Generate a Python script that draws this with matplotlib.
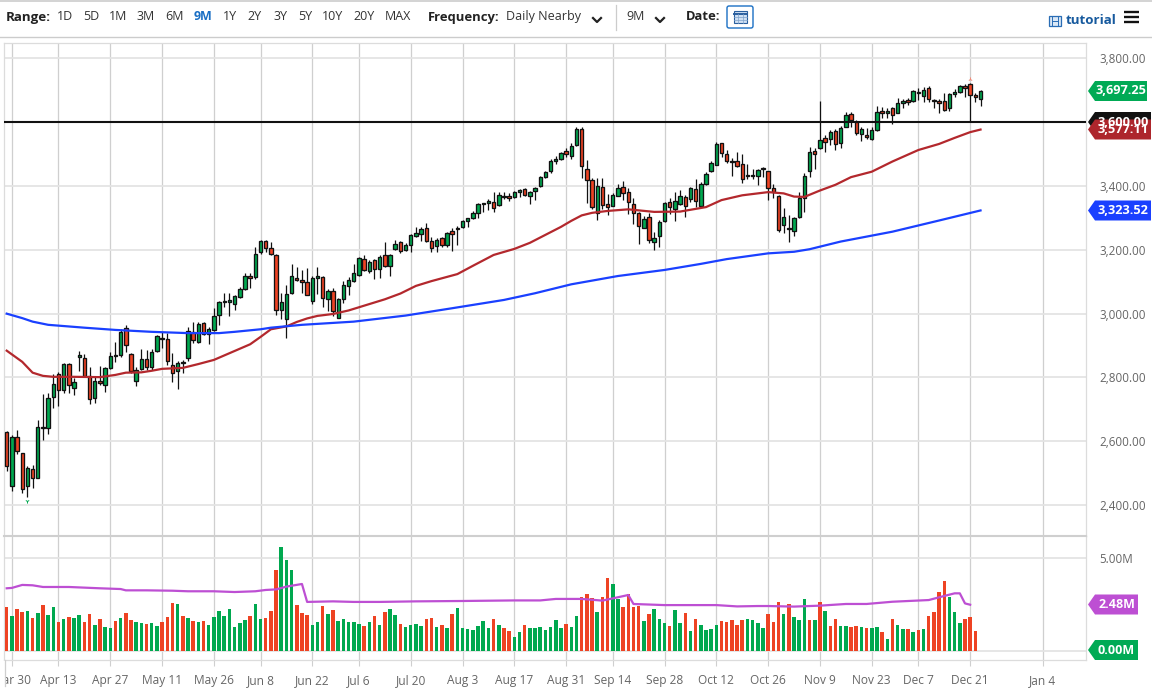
import matplotlib
matplotlib.use("Agg")
import matplotlib.pyplot as plt
from matplotlib.patches import Polygon, Rectangle, FancyBboxPatch

plt.rcParams['font.family'] = ['Open Sans', 'DejaVu Sans']

W, H = 1152, 692

# daily candles, one entry per trading day
opens = [2628, 2460, 2613, 2562, 2460, 2514, 2486, 2646, 2640, 2738,
         2811, 2760, 2843, 2768, 2863, 2861, 2806, 2737, 2790, 2776,
         2829, 2867, 2869, 2956, 2873, 2789, 2827, 2857, 2832, 2882,
         2923, 2920, 2839, 2820, 2847, 2860, 2944, 2912, 2971, 2936,
         2949, 2995, 3036, 3037, 3031, 3053, 3078, 3117, 3114, 3194,
         3229, 3205, 3184, 3012, 2984, 3065, 3111, 3104, 3098, 3040,
         3111, 3114, 3046, 3071, 2987, 3045, 3086, 3101, 3121, 3171,
         3135, 3167, 3141, 3184, 3150, 3204, 3224, 3199, 3214, 3243,
         3249, 3267, 3229, 3211, 3236, 3214, 3258, 3269, 3271, 3290,
         3300, 3317, 3343, 3346, 3350, 3340, 3367, 3369, 3366, 3381,
         3390, 3369, 3383, 3399, 3427, 3446, 3479, 3486, 3509, 3493,
         3529, 3578, 3453, 3420, 3314, 3396, 3345, 3339, 3370, 3396,
         3380, 3345, 3314, 3270, 3304, 3226, 3242, 3290, 3349, 3329,
         3345, 3367, 3360, 3392, 3336, 3405, 3446, 3467, 3534, 3502,
         3479, 3477, 3470, 3432, 3436, 3430, 3452, 3446, 3393, 3369,
         3277, 3268, 3260, 3304, 3362, 3446, 3510, 3519, 3550, 3546,
         3573, 3536, 3586, 3626, 3602, 3562, 3560, 3546, 3575, 3634,
         3630, 3644, 3630, 3660, 3671, 3667, 3692, 3682, 3706, 3670,
         3668, 3668, 3646, 3688, 3696, 3714, 3719, 3684, 3674]
highs = [2632, 2620, 2634, 2564, 2522, 2527, 2667, 2748, 2750, 2811,
         2818, 2846, 2844, 2797, 2884, 2874, 2832, 2806, 2836, 2834,
         2881, 2912, 2952, 2964, 2878, 2832, 2888, 2886, 2888, 2933,
         2944, 2938, 2876, 2853, 2855, 2959, 2975, 2975, 2975, 2959,
         3017, 3040, 3064, 3064, 3059, 3083, 3127, 3129, 3210, 3231,
         3231, 3226, 3187, 3064, 3090, 3155, 3146, 3137, 3142, 3118,
         3146, 3118, 3077, 3080, 3049, 3101, 3114, 3156, 3177, 3183,
         3169, 3171, 3183, 3225, 3187, 3231, 3228, 3221, 3249, 3271,
         3271, 3284, 3239, 3237, 3240, 3256, 3268, 3275, 3294, 3301,
         3322, 3346, 3348, 3359, 3380, 3380, 3380, 3378, 3383, 3390,
         3395, 3386, 3397, 3432, 3447, 3486, 3494, 3508, 3518, 3534,
         3584, 3584, 3482, 3424, 3424, 3424, 3375, 3377, 3408, 3417,
         3393, 3361, 3319, 3306, 3314, 3256, 3293, 3351, 3361, 3382,
         3387, 3372, 3398, 3421, 3414, 3445, 3478, 3539, 3536, 3513,
         3487, 3507, 3500, 3469, 3455, 3452, 3461, 3448, 3408, 3371,
         3330, 3309, 3304, 3380, 3440, 3521, 3518, 3668, 3560, 3576,
         3578, 3588, 3633, 3633, 3607, 3584, 3581, 3584, 3651, 3649,
         3644, 3649, 3675, 3673, 3675, 3701, 3706, 3710, 3714, 3672,
         3672, 3691, 3691, 3703, 3717, 3720, 3724, 3691, 3701]
lows = [2508, 2445, 2560, 2437, 2426, 2452, 2484, 2604, 2623, 2703,
        2710, 2752, 2752, 2746, 2821, 2803, 2717, 2719, 2776, 2755,
        2826, 2850, 2865, 2879, 2813, 2772, 2823, 2823, 2823, 2880,
        2891, 2840, 2787, 2763, 2813, 2852, 2907, 2909, 2933, 2905,
        2946, 2965, 3020, 2993, 3010, 3050, 3074, 3080, 3108, 3187,
        3192, 3183, 2996, 2982, 2925, 3062, 3101, 3064, 3058, 3030,
        3062, 3021, 3007, 2994, 2985, 3033, 3059, 3098, 3118, 3134,
        3127, 3108, 3111, 3146, 3119, 3200, 3190, 3197, 3192, 3241,
        3229, 3224, 3193, 3194, 3208, 3208, 3197, 3214, 3268, 3272,
        3298, 3299, 3320, 3325, 3320, 3338, 3359, 3352, 3363, 3365,
        3369, 3343, 3355, 3397, 3424, 3440, 3468, 3482, 3492, 3484,
        3527, 3424, 3348, 3329, 3295, 3327, 3309, 3337, 3368, 3356,
        3312, 3281, 3218, 3267, 3222, 3199, 3208, 3288, 3312, 3291,
        3340, 3302, 3351, 3333, 3334, 3403, 3444, 3465, 3492, 3471,
        3432, 3459, 3411, 3421, 3422, 3403, 3429, 3356, 3364, 3257,
        3254, 3225, 3243, 3301, 3319, 3429, 3455, 3516, 3508, 3529,
        3513, 3518, 3584, 3586, 3560, 3542, 3546, 3544, 3573, 3612,
        3612, 3595, 3628, 3644, 3654, 3665, 3670, 3665, 3665, 3644,
        3628, 3635, 3636, 3680, 3693, 3678, 3600, 3665, 3652]
closes = [2524, 2612, 2570, 2449, 2517, 2484, 2644, 2642, 2735, 2780,
          2761, 2842, 2775, 2787, 2871, 2806, 2731, 2788, 2782, 2830,
          2868, 2869, 2942, 2903, 2821, 2824, 2857, 2834, 2880, 2929,
          2921, 2853, 2813, 2846, 2845, 2947, 2918, 2969, 2936, 2953,
          2994, 3036, 3038, 3042, 3055, 3077, 3117, 3111, 3186, 3228,
          3206, 3186, 3011, 3035, 3061, 3117, 3107, 3098, 3059, 3111,
          3118, 3048, 3071, 3009, 3047, 3090, 3104, 3129, 3173, 3137,
          3163, 3141, 3179, 3148, 3184, 3219, 3195, 3214, 3246, 3252,
          3266, 3228, 3205, 3232, 3214, 3252, 3250, 3265, 3289, 3300,
          3317, 3344, 3346, 3354, 3331, 3372, 3368, 3362, 3380, 3387,
          3371, 3381, 3393, 3428, 3444, 3479, 3485, 3505, 3499, 3527,
          3579, 3462, 3419, 3335, 3399, 3340, 3333, 3371, 3395, 3379,
          3351, 3316, 3274, 3298, 3232, 3238, 3286, 3346, 3333, 3352,
          3368, 3338, 3393, 3352, 3406, 3437, 3473, 3532, 3505, 3480,
          3475, 3462, 3423, 3436, 3432, 3449, 3456, 3394, 3381, 3262,
          3302, 3264, 3301, 3362, 3433, 3506, 3499, 3543, 3539, 3568,
          3532, 3583, 3623, 3606, 3565, 3579, 3553, 3576, 3633, 3628,
          3636, 3623, 3660, 3668, 3665, 3697, 3695, 3702, 3672, 3668,
          3661, 3638, 3687, 3694, 3713, 3706, 3684, 3678, 3697]

# volume in millions, r/g is the bar colour
volumes = [2.34, 1.86, 2.25, 2.11, 2.16, 1.77, 2.04, 2.48, 1.93, 2.36,
           1.57, 1.71, 1.84, 1.75, 1.93, 1.57, 1.96, 1.38, 1.70, 1.30,
           1.23, 1.63, 1.75, 2.02, 1.66, 1.54, 1.48, 1.46, 1.50, 1.34,
           1.54, 1.82, 2.59, 2.52, 1.89, 1.77, 1.59, 1.54, 1.61, 1.39,
           1.80, 2.13, 1.88, 2.27, 1.29, 1.48, 1.66, 1.88, 2.50, 1.70,
           1.79, 2.16, 4.32, 5.57, 4.88, 4.36, 2.46, 2.02, 1.95, 1.39,
           1.54, 2.39, 1.96, 2.20, 1.59, 1.71, 1.55, 1.55, 1.45, 1.34,
           1.54, 1.88, 1.41, 2.07, 2.23, 1.93, 1.46, 1.27, 1.39, 1.46,
           1.36, 1.70, 1.77, 1.30, 1.38, 1.21, 2.00, 2.29, 1.25, 1.16,
           1.13, 1.34, 1.61, 1.21, 1.73, 1.41, 1.21, 1.09, 0.77, 1.02,
           1.38, 1.21, 1.21, 1.29, 1.14, 1.29, 1.64, 1.25, 1.45, 1.30,
           1.88, 2.89, 3.04, 2.84, 2.09, 2.89, 3.89, 3.59, 2.77, 2.34,
           3.05, 2.36, 2.41, 1.59, 1.98, 2.27, 1.70, 1.50, 1.32, 2.18,
           1.52, 2.04, 1.07, 1.70, 1.39, 1.11, 1.18, 1.39, 1.61, 1.54,
           1.66, 1.39, 1.64, 1.70, 1.68, 1.48, 1.21, 1.96, 1.57, 2.63,
           1.96, 2.50, 1.84, 1.66, 2.80, 1.66, 1.64, 2.63, 2.16, 1.34,
           1.70, 1.34, 1.32, 1.29, 1.34, 1.29, 1.21, 1.21, 1.29, 1.02,
           0.64, 1.73, 1.39, 1.18, 1.16, 1.04, 1.13, 1.18, 1.89, 2.11,
           3.18, 3.75, 2.91, 2.09, 1.52, 1.73, 1.82, 1.09]
vol_dirs = ("rgrrgrgrgg" "rgrggrrgrg" "grgrrggrgg" "rrrgrgrgrg" "gggggggrgg"
            "rrrgggrrrg" "grgrgggggr" "grgrggrggg" "grrgrgrggg" "ggggrgrrgg"
            "rgggggggrg" "grrrgrrggr" "rrrgrgggrg" "grgrggggrr" "rrrggggrrr"
            "grgggrgrgr" "rggrrgrggr" "grggrgrgrr" "rrgggrrr")

# moving averages, read at the bars listed
ma50_days = [0, 3, 5, 7, 9, 13, 18, 21, 23, 26, 28, 30, 34, 37, 40, 44, 47, 49, 51, 54,
             56, 58, 60, 63, 66, 70, 73, 76, 79, 82, 87, 90, 94, 98, 101, 104, 107, 109,
             111, 113, 116, 120, 125, 130, 135, 138, 142, 147, 150, 152, 154, 157, 160,
             163, 167, 171, 176, 180, 183, 186, 188]
ma50 = [2884, 2849, 2815, 2805, 2802, 2802, 2801, 2808, 2815, 2816, 2821, 2827, 2830, 2842,
        2855, 2883, 2904, 2927, 2951, 2960, 2974, 2985, 2993, 2999, 3010, 3030, 3045, 3063,
        3087, 3102, 3124, 3150, 3184, 3203, 3222, 3247, 3272, 3291, 3308, 3316, 3322, 3327,
        3319, 3320, 3334, 3356, 3371, 3381, 3377, 3367, 3366, 3386, 3404, 3428, 3445, 3477,
        3513, 3532, 3551, 3569, 3577.11]
ma200_days = [0, 3, 5, 8, 15, 21, 28, 35, 41, 44, 49, 51, 57, 67, 77, 86, 96, 102, 109,
              118, 127, 134, 139, 147, 152, 155, 161, 171, 180, 188]
ma200 = [3000, 2986, 2975, 2965, 2956, 2949, 2943, 2939, 2939, 2943, 2951, 2956, 2965, 2975,
         2994, 3017, 3043, 3064, 3092, 3118, 3137, 3156, 3171, 3189, 3194, 3202, 3226, 3257,
         3292, 3323.52]
volavg_days = [0, 1, 3, 5, 7, 12, 18, 22, 23, 27, 32, 35, 40, 44, 48, 50, 52, 54, 57, 58, 63,
               67, 72, 79, 88, 98, 103, 106, 111, 115, 117, 120, 121, 127, 137, 141, 145,
               147, 152, 157, 162, 166, 171, 178, 181, 183, 184, 185, 186]
volavg = [3.36, 3.38, 3.54, 3.52, 3.43, 3.43, 3.36, 3.32, 3.25, 3.25, 3.23, 3.20, 3.20, 3.16,
          3.20, 3.27, 3.30, 3.45, 3.59, 2.63, 2.66, 2.63, 2.63, 2.66, 2.68, 2.71, 2.71, 2.79,
          2.79, 2.70, 2.82, 3.00, 2.52, 2.46, 2.46, 2.39, 2.41, 2.41, 2.38, 2.43, 2.52, 2.52,
          2.64, 2.73, 2.95, 3.09, 3.09, 2.55, 2.48]

support_level = 3600
price_ticks = [2400, 2600, 2800, 3000, 3200, 3400, 3600, 3800]
date_ticks = [1, 10, 20, 30, 40, 49, 59, 68, 78, 88, 98, 108, 117, 127, 137, 147, 157, 167, 176, 186, 200]
date_labels = ['Mar 30', 'Apr 13', 'Apr 27', 'May 11', 'May 26', 'Jun 8', 'Jun 22', 'Jul 6', 'Jul 20',
               'Aug 3', 'Aug 17', 'Aug 31', 'Sep 14', 'Sep 28', 'Oct 12', 'Oct 26', 'Nov 9', 'Nov 23',
               'Dec 7', 'Dec 21', 'Jan 4']

range_labels = ['1D', '5D', '1M', '3M', '6M', '9M', '1Y', '2Y', '3Y', '5Y', '10Y', '20Y', 'MAX']
range_x = [65, 91, 118, 146, 174, 203, 230, 255, 280, 305, 333, 364, 398]

GREEN = '#00a84f'
RED = '#ee4323'
GRID_H = '#e4e4e4'
GRID_V = '#cfcfcf'
TXT = '#666666'
XMIN, XMAX = -0.52, 208.36


def px_box(left, top, right, bottom):
    return [left / W, 1 - bottom / H, (right - left) / W, (bottom - top) / H]


fig = plt.figure(figsize=(W / 100, H / 100), dpi=100, facecolor='white')
ax = fig.add_axes(px_box(4, 42.5, 1086, 536))
vax = fig.add_axes(px_box(4, 536, 1086, 660))

# price panel
days = range(len(opens))
for d in days:
    color = GREEN if closes[d] >= opens[d] else RED
    ax.vlines(d, lows[d], highs[d], color='#111111', lw=0.9, zorder=3)
    bottom = min(opens[d], closes[d])
    height = max(abs(closes[d] - opens[d]), 3)
    ax.bar(d, height, bottom=bottom, width=0.66, color=color, edgecolor='#111111', lw=0.95, zorder=4)

ax.plot(ma50_days, ma50, color='#b3282d', lw=1.6, zorder=5)
ax.plot(ma200_days, ma200, color='#1a40ff', lw=1.6, zorder=5)
ax.plot([lows.index(min(lows))], [2414], marker='1', ms=3, color=GREEN, mew=0.7, zorder=5)
ax.plot([186], [3737], marker='2', ms=3, color='#f08a78', mew=0.7, zorder=5)
ax.axhline(support_level, color='#111111', lw=1.5, zorder=6)

ax.set_xlim(XMIN, XMAX)
ax.set_ylim(2303, 3850)
ax.set_yticks(price_ticks)
ax.set_yticklabels(['{:,.2f}'.format(p) for p in price_ticks])
ax.set_xticks(date_ticks)
ax.tick_params(axis='x', length=0, labelbottom=False)
ax.tick_params(axis='y', length=0, labelleft=False, labelright=True, pad=9.5, labelsize=8.4, labelcolor=TXT)

# volume panel
bar_colors = [RED if c == 'r' else GREEN for c in vol_dirs]
vax.bar(range(len(volumes)), volumes, width=0.68, color=bar_colors, zorder=3)
vax.plot(volavg_days, volavg, color='#bd4fd3', lw=1.6, zorder=4)
vax.set_xlim(XMIN, XMAX)
vax.set_ylim(-0.48, 6.16)
vax.set_yticks([0, 5])
vax.set_yticklabels(['', '5.00M'])
vax.set_xticks(date_ticks)
vax.set_xticklabels(date_labels)
vax.tick_params(axis='x', length=4, color=GRID_V, pad=6, labelsize=8.6, labelcolor=TXT)
vax.tick_params(axis='y', length=0, labelleft=False, labelright=True, pad=9.5, labelsize=8.4, labelcolor=TXT)

for a in (ax, vax):
    a.grid(True, axis='x', color=GRID_V, lw=0.9, zorder=0)
    a.grid(True, axis='y', color=GRID_H, lw=1.3, zorder=0)
    a.set_axisbelow(True)
    for s in a.spines.values():
        s.set_color('#dcdcdc')
        s.set_linewidth(0.9)
vax.spines['top'].set_color(GRID_V)
vax.spines['top'].set_linewidth(1.5)

# toolbar and price tags drawn in page pixels on top
ui = fig.add_axes([0, 0, 1, 1], zorder=10)
ui.set_xlim(0, W)
ui.set_ylim(H, 0)
ui.axis('off')
ui.patch.set_alpha(0)

ui.add_patch(Rectangle((0, 660.5), 4, 30, color='white', zorder=1))
ui.plot([4.5, 4.5], [660, 686], color=GRID_V, lw=0.9, zorder=2)
ui.plot([0, W], [0.5, 0.5], color='#cccccc', lw=1.2)
ui.plot([0, W], [36.5, 36.5], color='#cccccc', lw=1.0)

ui.text(6, 17, 'Range:', fontsize=9.6, fontweight='bold', color='#222222', va='center')
for label, x in zip(range_labels, range_x):
    on = label == '9M'
    ui.text(x, 17, label, fontsize=9.0, ha='center', va='center',
            color='#1a6fc4' if on else '#333333', fontweight='bold' if on else 'normal')
ui.text(428, 17, 'Frequency:', fontsize=9.4, fontweight='bold', color='#222222', va='center')
ui.text(506, 16.5, 'Daily Nearby', fontsize=9.0, color='#333333', va='center')
ui.plot([615.5, 615.5], [5, 30], color='#cccccc', lw=0.9)
ui.text(626, 16.5, '9M', fontsize=9.0, color='#333333', va='center')
for cx in (597, 660):
    ui.plot([cx - 4, cx, cx + 4], [18, 22, 18], color='#222222', lw=1.6)
ui.text(686, 17, 'Date:', fontsize=9.4, fontweight='bold', color='#222222', va='center')

# calendar button
ui.add_patch(FancyBboxPatch((727, 6), 26, 22, boxstyle='round,pad=0,rounding_size=2',
                            fc='white', ec='#1a6fc4', lw=1))
ui.add_patch(Rectangle((734, 11), 13, 12, fc='#cfe0f3', ec='#2a5f9e', lw=0.8))
ui.plot([734, 747], [14, 14], color='#2a5f9e', lw=1.4)
for gx in (738.3, 742.6):
    ui.plot([gx, gx], [14, 23], color='#7fa3cc', lw=0.5)
for gy in (17, 20):
    ui.plot([734, 747], [gy, gy], color='#7fa3cc', lw=0.5)

# tutorial link and menu icon
ui.add_patch(Rectangle((1049, 15.5), 12, 10.5, fc='#dbe8f6', ec='#2a6db5', lw=0.9))
for gx in (1052, 1058):
    ui.plot([gx, gx], [15.5, 26], color='#2a6db5', lw=0.7)
ui.plot([1052, 1058], [20.7, 20.7], color='#2a6db5', lw=0.7)
ui.text(1066, 21, 'tutorial', fontsize=9.6, fontweight='bold', color='#175a9e', va='center')
for my in (12, 17, 22):
    ui.plot([1124, 1139], [my, my], color='#111111', lw=1.7, solid_capstyle='butt')


def price_tag(yc, text, color, right=1147, half=10, tip=1088, size=9.2):
    points = [(tip, yc), (tip + 7, yc - half), (right, yc - half), (right, yc + half), (tip + 7, yc + half)]
    ui.add_patch(Polygon(points, closed=True, fc=color, ec='none'))
    ui.text((tip + 7 + right) / 2, yc, text, color='white', fontsize=size, fontweight='bold',
            ha='center', va='center')


price_tag(122, '3,600.00', '#111111', right=1151)
price_tag(91, '3,697.25', '#00aa55')
price_tag(129.5, '3,577.11', '#ad262c', right=1151)
price_tag(210.5, '3,323.52', '#1a40ff', right=1151)
price_tag(604.5, '2.48M', '#bd4fd3', right=1138, size=9.0)
price_tag(650, '0.00M', '#00aa55', right=1138, size=9.0)

fig.savefig('out.png', dpi=100)
